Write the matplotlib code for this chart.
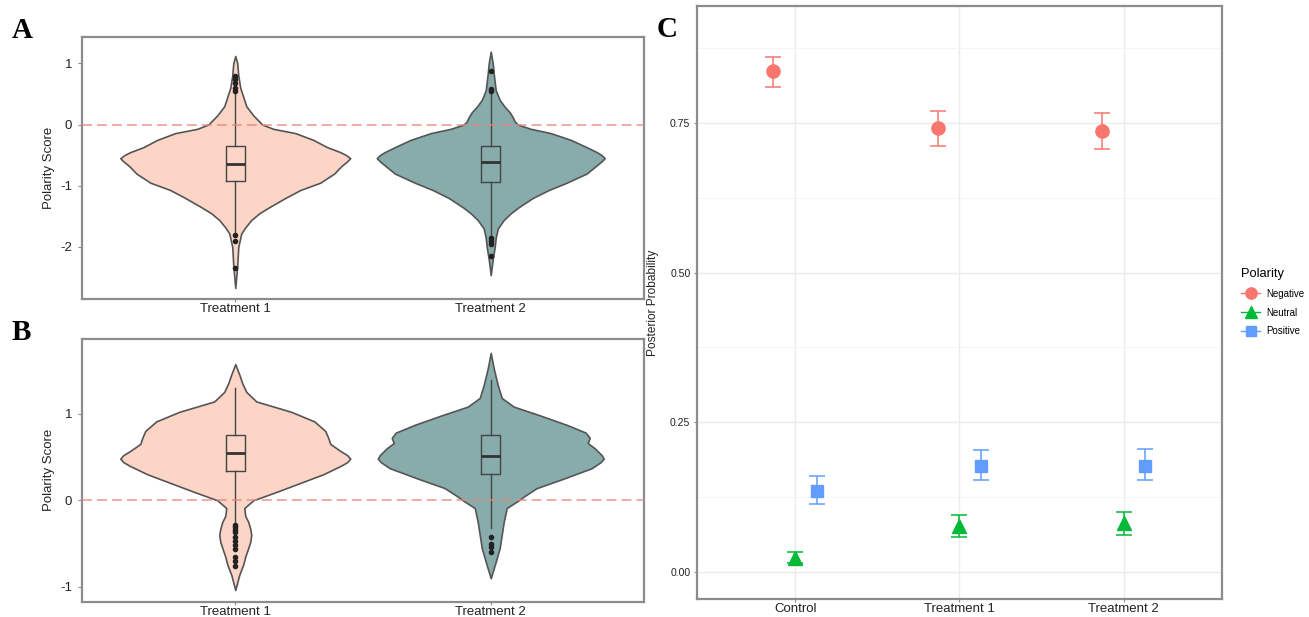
import numpy as np
import matplotlib
matplotlib.use("Agg")
import matplotlib.pyplot as plt
from matplotlib.lines import Line2D
from matplotlib.ticker import MultipleLocator

plt.rcParams['font.family'] = ['Liberation Sans', 'DejaVu Sans']
plt.rcParams['axes.unicode_minus'] = False

# ---- panel A / B : violin outlines (y, relative density) ----
groups = ["Treatment 1", "Treatment 2"]

a_t1_y = [1.12, 1.00, 0.80, 0.60, 0.45, 0.30, 0.15, 0.05, 0.00, -0.07, -0.14, -0.25, -0.37, -0.45,
          -0.50, -0.55, -0.60, -0.68, -0.80, -0.95, -1.07, -1.20, -1.35, -1.45, -1.56, -1.68, -1.78,
          -2.00, -2.30, -2.67]
a_t1_d = [0, 2, 3, 5, 8, 11, 18, 24, 27, 38, 60, 78, 92, 105,
          111, 115, 112, 106, 99, 85, 65, 50, 34, 24, 16, 10, 6,
          3, 2, 0]
a_t2_y = [1.19, 1.00, 0.83, 0.56, 0.40, 0.29, 0.20, 0.12, 0.05, 0.00, -0.07, -0.14, -0.25, -0.37,
          -0.45, -0.50, -0.55, -0.60, -0.68, -0.80, -0.95, -1.07, -1.20, -1.35, -1.45, -1.56, -1.70,
          -1.85, -2.00, -2.20, -2.46]
a_t2_d = [0, 2, 3, 5, 9, 14, 19, 22, 24, 27, 40, 60, 80, 96,
          106, 111, 114, 111, 105, 96, 76, 58, 42, 28, 20, 13, 7,
          5, 4, 2, 0]

b_t1_y = [1.57, 1.45, 1.35, 1.25, 1.14, 1.02, 0.91, 0.80, 0.72, 0.65, 0.57, 0.52, 0.48, 0.44,
          0.40, 0.30, 0.20, 0.10, 0.00, -0.09, -0.18, -0.25, -0.33, -0.40, -0.48, -0.55, -0.65,
          -0.74, -0.86, -1.035]
b_t1_d = [0, 4, 7, 11, 21, 56, 79, 90, 93, 95, 105, 112, 115, 112,
          106, 88, 65, 42, 18, 9, 10, 13, 15, 16, 15, 13, 10,
          8, 4, 0]
b_t2_y = [1.70, 1.52, 1.33, 1.18, 1.08, 0.98, 0.87, 0.78, 0.72, 0.66, 0.60, 0.52, 0.48, 0.44,
          0.37, 0.25, 0.14, 0.05, 0.00, -0.09, -0.25, -0.40, -0.55, -0.71, -0.90]
b_t2_d = [0, 3, 7, 11, 23, 49, 76, 95, 99, 97, 104, 111, 113, 110,
          101, 73, 46, 34, 28, 16, 13, 11, 9, 5, 0]

# box summaries (q1, median, q3, whisker low, whisker high) and outliers
a_box = [(-0.93, -0.64, -0.355, -1.78, 0.50), (-0.94, -0.61, -0.355, -1.82, 0.52)]
a_out = [[0.55, 0.60, 0.68, 0.75, 0.80, -1.80, -1.90, -2.35],
         [0.55, 0.58, 0.87, -1.85, -1.90, -1.95, -2.15]]
b_box = [(0.338, 0.54, 0.753, -0.27, 1.30), (0.30, 0.51, 0.753, -0.32, 1.39)]
b_out = [[-0.28, -0.31, -0.34, -0.37, -0.42, -0.47, -0.52, -0.56, -0.66, -0.70, -0.76],
         [-0.42, -0.50, -0.54, -0.60]]

# ---- panel C : posterior probabilities ----
conditions = ["Control", "Treatment 1", "Treatment 2"]
polarity = ["Negative", "Neutral", "Positive"]
post_mean = {"Negative": [0.836, 0.741, 0.737],
             "Neutral": [0.024, 0.077, 0.082],
             "Positive": [0.136, 0.177, 0.177]}
post_lo = {"Negative": [0.810, 0.712, 0.706],
           "Neutral": [0.015, 0.058, 0.062],
           "Positive": [0.114, 0.153, 0.153]}
post_hi = {"Negative": [0.860, 0.770, 0.766],
           "Neutral": [0.034, 0.095, 0.100],
           "Positive": [0.161, 0.204, 0.205]}

violin_fill = ["#FCD5C6", "#88ACAC"]
pol_color = {"Negative": "#F8766D", "Neutral": "#00BA38", "Positive": "#619CFF"}
pol_marker = {"Negative": "o", "Neutral": "^", "Positive": "s"}
pol_ms = {"Negative": 9.5, "Neutral": 10.5, "Positive": 8.5}

W, H = 1309, 617
fig = plt.figure(figsize=(W / 100, H / 100), dpi=100)
fig.patch.set_facecolor("white")


def px_axes(l, t, r, b):
    return fig.add_axes([l / W, 1 - b / H, (r - l) / W, (b - t) / H])


def frame(ax):
    for s in ax.spines.values():
        s.set_color("#8c8c8c")
        s.set_linewidth(1.6)


def violin_panel(ax, profiles, boxes, outs, ylim, yticks):
    dmax = max(max(d) for _, d in profiles)
    for i, (y, d) in enumerate(profiles):
        pos = i + 1
        w = np.array(d) / dmax * 0.45
        ax.fill_betweenx(y, pos - w, pos + w, facecolor=violin_fill[i],
                         edgecolor="#555555", linewidth=1.2, joinstyle="round", zorder=2)
    stats = []
    for (q1, med, q3, lo, hi), fl in zip(boxes, outs):
        stats.append(dict(q1=q1, med=med, q3=q3, whislo=lo, whishi=hi, fliers=fl))
    ax.bxp(stats, positions=[1, 2], widths=0.075, showcaps=False, patch_artist=False,
           boxprops=dict(color="#444444", linewidth=1.0),
           medianprops=dict(color="#333333", linewidth=2.0),
           whiskerprops=dict(color="#444444", linewidth=1.0),
           flierprops=dict(marker="o", markerfacecolor="#222222", markeredgecolor="#222222",
                           markersize=3.0), zorder=3)
    ax.axhline(0, color="#E8867E", alpha=0.75, linewidth=1.3, linestyle=(0, (5.5, 2.8)), zorder=4)
    ax.set_xlim(0.4, 2.6)
    ax.set_ylim(*ylim)
    ax.set_yticks(yticks)
    ax.set_yticklabels([str(t) for t in yticks])
    ax.set_xticks([1, 2])
    ax.set_xticklabels(groups)
    ax.tick_params(axis="y", length=3, pad=4, labelsize=9.5, color="#8c8c8c", labelcolor="#222222")
    ax.tick_params(axis="x", length=2, pad=1.2, labelsize=9.5, color="#8c8c8c", labelcolor="#222222")
    ax.set_ylabel("Polarity Score", fontsize=9.5, color="#222222")
    ax.yaxis.set_label_coords(-0.048, 0.5)
    frame(ax)


axA = px_axes(82, 37, 644, 299)
violin_panel(axA, [(a_t1_y, a_t1_d), (a_t2_y, a_t2_d)], a_box, a_out, (-2.85, 1.43), [-2, -1, 0, 1])

axB = px_axes(82, 339, 644, 601.7)
violin_panel(axB, [(b_t1_y, b_t1_d), (b_t2_y, b_t2_d)], b_box, b_out, (-1.17, 1.86), [-1, 0, 1])

axC = px_axes(696.7, 6, 1222, 599)
x = np.arange(1, len(conditions) + 1)
dodge = {"Negative": -0.133, "Neutral": 0.0, "Positive": 0.133}
for p in polarity:
    m = np.array(post_mean[p])
    err = [m - np.array(post_lo[p]), np.array(post_hi[p]) - m]
    axC.errorbar(x + dodge[p], m, yerr=err, fmt=pol_marker[p], color=pol_color[p],
                 markersize=pol_ms[p], elinewidth=1.1, capsize=5.8, capthick=1.1, zorder=3)
axC.set_xlim(0.4, 3.6)
axC.set_ylim(-0.045, 0.945)
axC.set_xticks(x)
axC.set_xticklabels(conditions)
axC.set_yticks([0.0, 0.25, 0.5, 0.75])
axC.set_yticklabels(["0.00", "0.25", "0.50", "0.75"])
axC.yaxis.set_minor_locator(MultipleLocator(0.125))
axC.grid(which="major", color="#EBEBEB", linewidth=1.0, zorder=0)
axC.grid(which="minor", axis="y", color="#F4F4F4", linewidth=0.6, zorder=0)
axC.set_axisbelow(True)
axC.tick_params(axis="y", which="major", length=2.5, pad=2, labelsize=7.6, color="#8c8c8c",
                labelcolor="#222222")
axC.tick_params(axis="y", which="minor", length=0)
axC.tick_params(axis="x", length=2, pad=1.2, labelsize=9.5, color="#8c8c8c", labelcolor="#222222")
axC.set_ylabel("Posterior Probability", fontsize=8.6, color="#222222")
axC.yaxis.set_label_coords(-0.072, 0.5)
frame(axC)

handles = [Line2D([], [], color=pol_color[p], marker=pol_marker[p], markersize=pol_ms[p] * 0.85,
                  linewidth=1.0) for p in polarity]
leg = fig.legend(handles, polarity, title="Polarity", loc="upper left",
                 bbox_to_anchor=(1241 / W, 1 - 268 / H), frameon=False, fontsize=7,
                 title_fontsize=9.3, handlelength=2.0, handletextpad=0.6, labelspacing=0.9,
                 borderpad=0, borderaxespad=0, alignment="left")

for letter, lx, ly in [("A", 12, 38), ("B", 12, 340), ("C", 657, 37)]:
    fig.text(lx / W, 1 - ly / H, letter, fontsize=21, fontweight="bold",
             family="Liberation Serif", va="baseline", ha="left")

fig.savefig("out.png", dpi=100)
